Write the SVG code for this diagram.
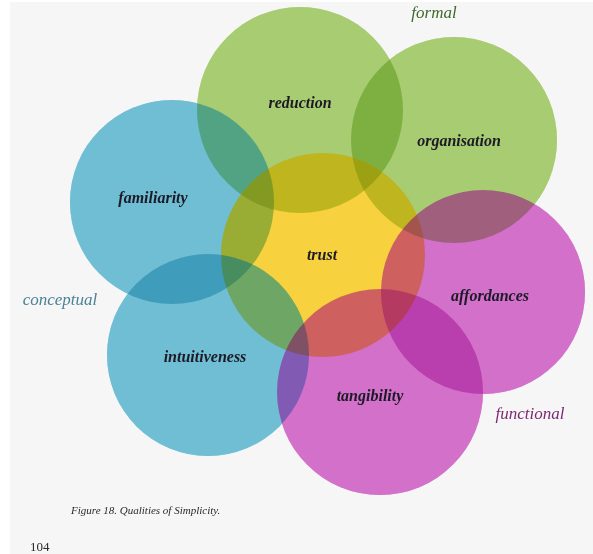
<svg xmlns="http://www.w3.org/2000/svg" width="593" height="554" viewBox="0 0 593 554">
  <defs>
    <!-- disc outlines, shared by the two paint passes -->
    <circle id="c-reduction" cx="300" cy="110" r="103"/>
    <circle id="c-organisation" cx="454" cy="140" r="103"/>
    <circle id="c-trust" cx="323" cy="255" r="102"/>
    <circle id="c-familiarity" cx="172" cy="202" r="102"/>
    <circle id="c-intuitiveness" cx="208" cy="355" r="101"/>
    <circle id="c-affordances" cx="483" cy="292" r="102"/>
    <circle id="c-tangibility" cx="380" cy="392" r="103"/>
  </defs>
  <style>
    /* translucent pass */
    .t-green { fill: #94c251; fill-opacity: 0.8; }
    .t-blue { fill: #4fb0cc; fill-opacity: 0.8; }
    .t-yellow { fill: #f9c910; fill-opacity: 0.8; }
    .t-magenta { fill: #c94fbf; fill-opacity: 0.8; }
    /* multiply pass */
    .m { mix-blend-mode: multiply; }
    .m-green { fill: #a8cc72; }
    .m-blue { fill: #70bed4; }
    .m-yellow { fill: #f8d23e; }
    .m-magenta { fill: #d270ca; }
    .label { font-family: "Liberation Serif", "DejaVu Serif", serif; font-style: italic; font-weight: bold; font-size: 16px; fill: #1c1a26; text-anchor: middle; }
    .group-name { font-family: "Liberation Serif", "DejaVu Serif", serif; font-style: italic; font-size: 17px; text-anchor: middle; }
    .caption { font-family: "Liberation Serif", "DejaVu Serif", serif; font-style: italic; font-size: 11px; fill: #2a2a2a; }
    .folio { font-family: "Liberation Serif", "DejaVu Serif", serif; font-size: 13px; fill: #2a2a2a; }
  </style>

  <!-- page -->
  <rect x="0" y="0" width="593" height="554" fill="#ffffff"/>
  <rect x="10" y="2" width="583" height="552" fill="#f6f6f6"/>

  <!-- overlapping quality discs -->
  <g id="discs" style="isolation:isolate">
    <g id="reduction"><use href="#c-reduction" class="t-green"/></g>
    <g id="organisation"><use href="#c-organisation" class="t-green"/></g>
    <g id="familiarity"><use href="#c-familiarity" class="t-blue"/></g>
    <g id="trust"><use href="#c-trust" class="t-yellow"/></g>
    <g id="intuitiveness"><use href="#c-intuitiveness" class="t-blue"/></g>
    <g id="affordances"><use href="#c-affordances" class="t-magenta"/></g>
    <g id="tangibility"><use href="#c-tangibility" class="t-magenta"/></g>
    <!-- multiplied copy deepens the overlaps -->
    <g id="overlap-shading" opacity="0.6">
      <use href="#c-reduction" class="m m-green"/>
      <use href="#c-organisation" class="m m-green"/>
      <use href="#c-familiarity" class="m m-blue"/>
      <use href="#c-trust" class="m m-yellow"/>
      <use href="#c-intuitiveness" class="m m-blue"/>
      <use href="#c-affordances" class="m m-magenta"/>
      <use href="#c-tangibility" class="m m-magenta"/>
    </g>
  </g>

  <!-- quality labels -->
  <g id="labels">
    <text class="label" x="300" y="108">reduction</text>
    <text class="label" x="459" y="146">organisation</text>
    <text class="label" x="153" y="203">familiarity</text>
    <text class="label" x="322" y="260">trust</text>
    <text class="label" x="490" y="301">affordances</text>
    <text class="label" x="205" y="362">intuitiveness</text>
    <text class="label" x="370" y="401">tangibility</text>
  </g>

  <!-- category names -->
  <g id="categories">
    <text class="group-name" x="434" y="18" fill="#3f6a2c">formal</text>
    <text class="group-name" x="60" y="305" fill="#4a8296">conceptual</text>
    <text class="group-name" x="530" y="419" fill="#7a2a72">functional</text>
  </g>

  <text class="caption" x="71" y="514">Figure 18. Qualities of Simplicity.</text>
  <text class="folio" x="30" y="551">104</text>
</svg>
